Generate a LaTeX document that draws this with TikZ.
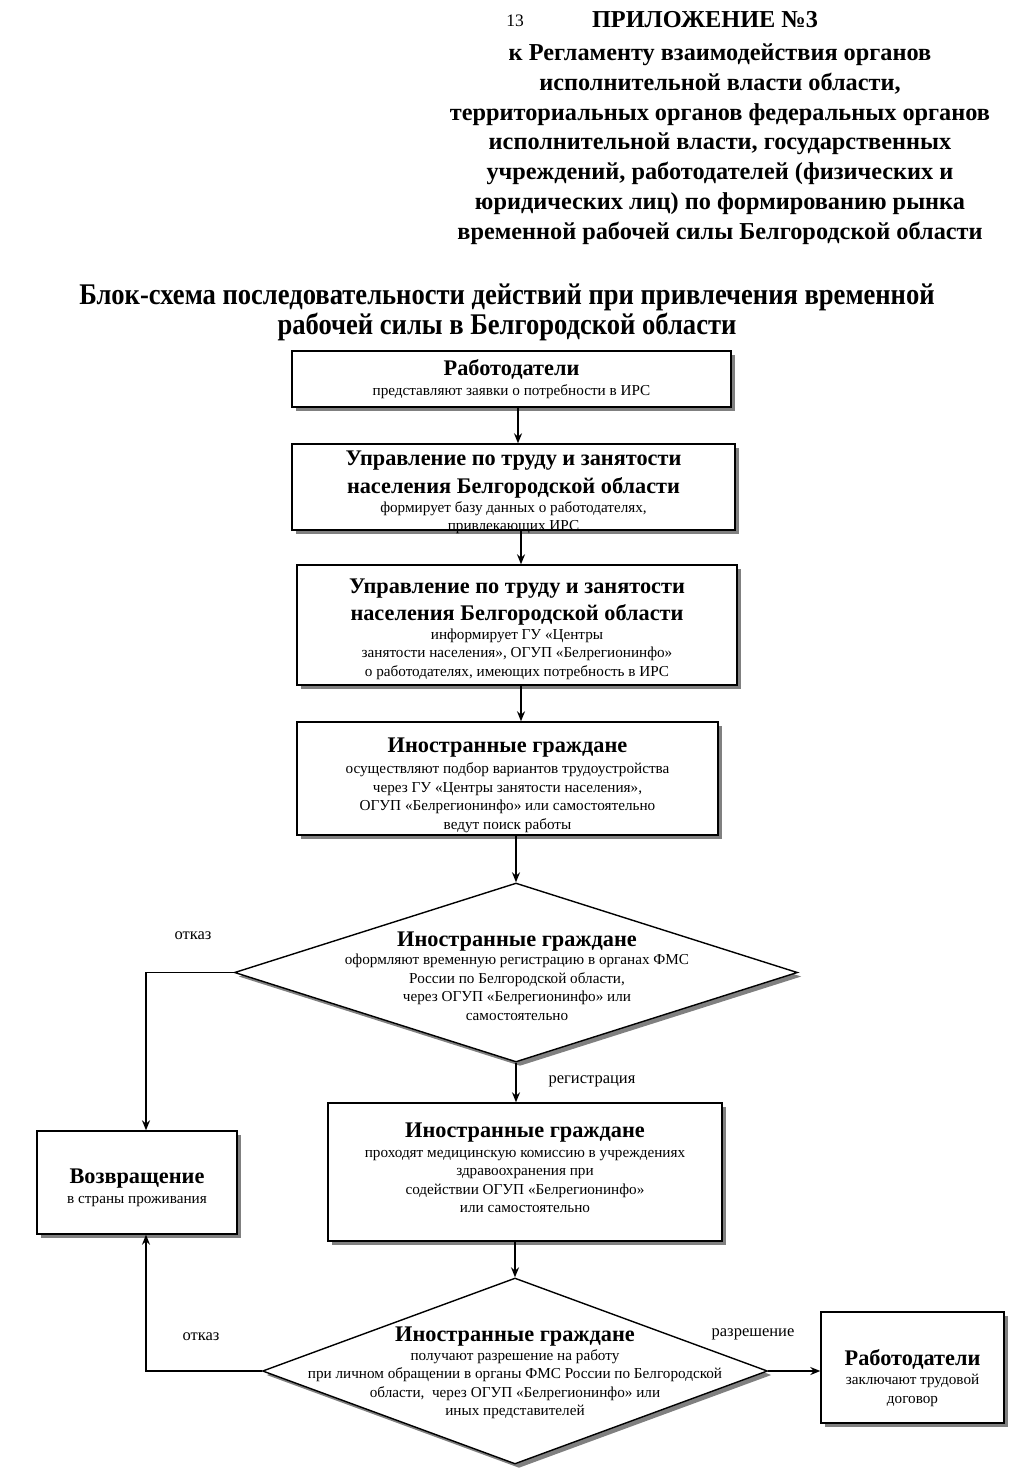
\documentclass[tikz,border=0pt]{standalone}
\usepackage{fontspec}
\setmainfont{Liberation Serif}
\usetikzlibrary{shapes.geometric,arrows.meta,shadows}
\newcommand{\ttlf}{\fontsize{22.3}{26}\selectfont\bfseries}
\newcommand{\bdyf}{\fontsize{15.2}{18.5}\selectfont}
\begin{document}
\begin{tikzpicture}[x=1pt,y=-1pt,
  shd/.style={drop shadow={shadow xshift=4pt,shadow yshift=-4pt,fill=black!50,opacity=1}},
  box/.style={draw,line width=1.4pt,fill=white,shd,inner sep=0pt},
  dia/.style={draw,line width=1.4pt,fill=white,shd,shape=diamond,inner sep=0pt},
  btext/.style={align=center,font=\bdyf,inner sep=0pt},
  lbl/.style={font=\fontsize{16.5}{18}\selectfont,inner sep=0pt},
  arr/.style={line width=1.4pt,-{Stealth[length=10pt,width=8pt]}},
  hdr/.style={font=\fontsize{24.3}{29.8}\selectfont\bfseries,inner sep=0pt}]
\useasboundingbox (0,0) rectangle (1024,1479);
% header
\node[lbl,anchor=base,font=\fontsize{17.5}{18}\selectfont] (pg) at (515,27) {13};
\node[hdr,anchor=base] (app) at (705,28) {ПРИЛОЖЕНИЕ №3};
\node[hdr,anchor=north,align=center] (reg) at (720,43.5)
 {к Регламенту взаимодействия органов\\
  исполнительной власти области,\\
  территориальных органов федеральных органов\\
  исполнительной власти, государственных\\
  учреждений, работодателей (физических и\\
  юридических лиц) по формированию рынка\\
  временной рабочей силы Белгородской области};
\node[anchor=north,align=center,inner sep=0pt,font=\fontsize{30}{30}\selectfont\bfseries] (title) at (507,284)
 {\scalebox{0.886}[1]{Блок-схема последовательности действий при привлечения временной}\\
  \scalebox{0.886}[1]{рабочей силы в Белгородской области}};
% box 1
\node[box,minimum width=439pt,minimum height=56pt] (b1) at (511.5,379) {};
\node[btext] (b1t) at (511.5,379)
 {{\ttlf Работодатели}\\[2pt] представляют заявки о потребности в ИРС};
% box 2
\node[box,minimum width=443pt,minimum height=86pt] (b2) at (513.5,487) {};
\node[btext] (b2t) at (513.5,492.5)
 {{\ttlf Управление по труду и занятости}\\[6pt]{\ttlf населения Белгородской области}\\
  формирует базу данных о работодателях,\\ привлекающих ИРС};
% box 3
\node[box,minimum width=440pt,minimum height=120pt] (b3) at (517,625) {};
\node[btext] (b3t) at (517,629)
 {{\ttlf Управление по труду и занятости}\\[6pt]{\ttlf населения Белгородской области}\\
  информирует ГУ «Центры\\ занятости населения», ОГУП «Белрегионинфо»\\
  о работодателях, имеющих потребность в ИРС};
% box 4
\node[box,minimum width=421pt,minimum height=113pt] (b4) at (507.5,778.5) {};
\node[btext] (b4t) at (507.5,785)
 {{\ttlf Иностранные граждане}\\[3pt] осуществляют подбор вариантов трудоустройства\\
  через ГУ «Центры занятости населения»,\\ ОГУП «Белрегионинфо» или самостоятельно\\
  ведут поиск работы};
% diamond 1
\node[dia,minimum width=563pt,minimum height=179pt] (d1) at (516,972.5) {};
\node[btext] (d1t) at (517,976)
 {{\ttlf Иностранные граждане}\\ оформляют временную регистрацию в органах ФМС\\
  России по Белгородской области,\\ через ОГУП «Белрегионинфо» или\\ самостоятельно};
% return box
\node[box,minimum width=200pt,minimum height=103pt] (ret) at (137,1182.5) {};
\node[btext] (rett) at (137,1188)
 {{\ttlf Возвращение}\\[1pt] в страны проживания};
% box 5
\node[box,minimum width=394pt,minimum height=138pt] (b5) at (525,1172) {};
\node[btext] (b5t) at (525,1168)
 {{\ttlf Иностранные граждане}\\[1pt] проходят медицинскую комиссию в учреждениях\\
  здравоохранения при\\ содействии ОГУП «Белрегионинфо»\\ или самостоятельно};
% diamond 2
\node[dia,minimum width=505pt,minimum height=186pt] (d2) at (515,1371) {};
\node[btext] (d2t) at (515,1373)
 {{\ttlf Иностранные граждане}\\ получают разрешение на работу\\
  при личном обращении в органы ФМС России по Белгородской\\
  области,\ \ через ОГУП «Белрегионинфо» или\\ иных представителей};
% box 6
\node[box,minimum width=183pt,minimum height=111pt] (b6) at (912.5,1367.5) {};
\node[btext] (b6t) at (912.5,1378)
 {{\ttlf Работодатели}\\[1pt] заключают трудовой\\ договор};
% labels
\node[lbl] (l1) at (193,936) {отказ};
\node[lbl] (l2) at (592,1081) {регистрация};
\node[lbl] (l3) at (201,1337) {отказ};
\node[lbl] (l4) at (753,1334) {разрешение};
% connectors
\draw[arr] (b1.south -| 518,0) -- (b2.north -| 518,0);
\draw[arr] (b2.south -| 521,0) -- (b3.north -| 521,0);
\draw[arr] (b3.south -| 521,0) -- (b4.north -| 521,0);
\draw[arr] (b4.south -| d1.north) -- (d1.north);
\draw[arr] (d1.south) -- (d1.south |- b5.north);
\draw[arr] (b5.south -| d2.north) -- (d2.north);
\draw[arr] (d1.west) -| (ret.north -| 146,0);
\draw[arr] (d2.west) -| (ret.south -| 146,0);
\draw[arr] (d2.east) -- (d2.east -| b6.west);
\end{tikzpicture}
\end{document}
